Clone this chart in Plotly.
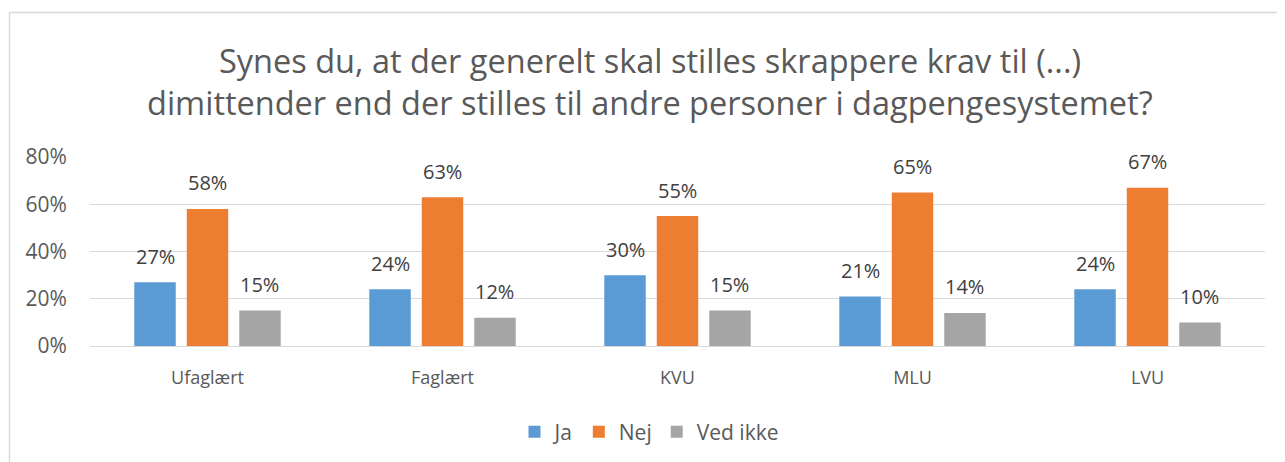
import plotly.graph_objects as go

categories = ["Ufaglært", "Faglært", "KVU", "MLU", "LVU"]
ja = [0.27, 0.24, 0.30, 0.21, 0.24]
nej = [0.58, 0.63, 0.55, 0.65, 0.67]
ved_ikke = [0.15, 0.12, 0.15, 0.14, 0.10]
series_names = ["Ja", "Nej", "Ved ikke"]
colors = ["#5B9BD5", "#ED7D31", "#A5A5A5"]
title_lines = ["Synes du, at der generelt skal stilles skrappere krav til (...)",
               "dimittender end der stilles til andre personer i dagpengesystemet?"]

FONT = "Open Sans"
OFF = 8  # page body margin
W, H = 1285 - OFF, 462 - OFF
L, R, T, B = 90 - OFF, 20, 157 - OFF, 116
pw, ph = W - L - R, H - T - B
BARGAP, BARGROUPGAP = 0.33, 0.21
n_series = 3
cat_px = pw / len(categories)
slot_px = cat_px * (1 - BARGAP) / n_series

def px_x(p):
    return (p - OFF - L) / pw

def px_y(p):
    return (H - B - (p - OFF)) / ph

fig = go.Figure()
annotations = []
for i, (name, vals, col) in enumerate(zip(series_names, [ja, nej, ved_ikke], colors)):
    fig.add_trace(go.Bar(
        x=categories, y=vals, name=name, marker_color=col,
        marker_line_width=0,
    ))
    for c, v in zip(categories, vals):
        annotations.append(dict(
            x=c, y=v, xref="x", yref="y", text=f"{round(v*100)}%",
            showarrow=False, xanchor="center", yanchor="middle",
            xshift=(i - (n_series - 1) / 2) * slot_px, yshift=26,
            font=dict(size=20, color="#404040", family=FONT),
        ))

for line, yc in zip(title_lines, [60, 103]):
    annotations.append(dict(
        text=line, xref="paper", yref="paper", x=px_x(650), y=px_y(yc),
        xanchor="center", yanchor="middle", showarrow=False,
        font=dict(size=32.5, color="#595959", family=FONT),
    ))

fig.update_layout(
    width=W, height=H,
    margin=dict(l=L, r=R, t=T, b=B, autoexpand=False),
    paper_bgcolor="white", plot_bgcolor="white",
    barmode="group", bargap=BARGAP, bargroupgap=BARGROUPGAP,
    font=dict(family=FONT, color="#595959", size=18),
    xaxis=dict(showgrid=False, ticks="outside", ticklen=15, automargin=False,
               tickcolor="rgba(0,0,0,0)", showline=True, linecolor="#D9D9D9",
               linewidth=1, tickfont=dict(size=18, color="#595959")),
    yaxis=dict(range=[0, 0.8], dtick=0.2, tickformat=".0%", showgrid=True,
               gridcolor="#D9D9D9", gridwidth=1, zeroline=False, automargin=False,
               ticks="outside", ticklen=18, tickcolor="rgba(0,0,0,0)",
               tickfont=dict(size=21, color="#595959")),
    legend=dict(orientation="h", x=(649 - OFF) / W, xanchor="center", xref="container",
                y=1 - (432 - OFF) / H, yanchor="middle", yref="container",
                font=dict(size=21, color="#595959"),
                itemwidth=30, traceorder="normal"),
    showlegend=True,
    annotations=annotations,
    shapes=[
        dict(type="line", xref="paper", yref="paper",
             x0=px_x(9.5), x1=px_x(9.5), y0=px_y(12.5), y1=px_y(470),
             line=dict(color="#D9D9D9", width=1.5)),
        dict(type="line", xref="paper", yref="paper",
             x0=px_x(9.5), x1=px_x(1290), y0=px_y(12.5), y1=px_y(12.5),
             line=dict(color="#D9D9D9", width=1.5)),
    ],
)

fig.write_html("out.html")
